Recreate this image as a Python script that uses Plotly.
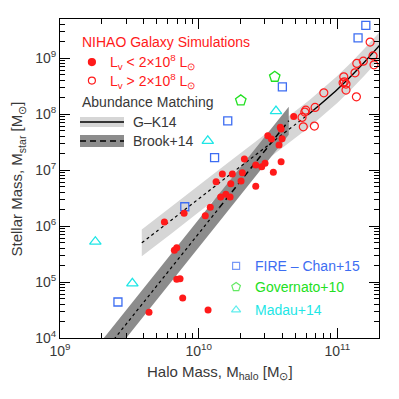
import numpy as np
import plotly.graph_objects as go

# ---------------- data (log10 values)
# NIHAO, L_V < 2e8 L_sun (filled red dots)
faint_logmh = [10.171, 10.243, 10.126, 10.232, 10.196, 10.159, 10.227, 10.084, 10.048,
               9.895, 9.753, 9.842, 9.825, 9.842, 9.866, 9.885, 9.642, 10.068,
               10.330, 10.412, 10.455, 10.479, 10.595, 10.539, 10.315, 10.306, 10.412,
               10.686, 10.589, 10.595, 10.499, 10.525, 10.602, 10.580]
faint_logms = [6.929, 6.929, 6.791, 6.755, 6.566, 6.518, 6.518, 6.334, 6.184,
               6.227, 6.071, 5.613, 5.566, 5.048, 5.059, 4.714, 4.459, 4.500,
               7.196, 7.089, 7.059, 7.120, 7.148, 6.959, 6.952, 6.804, 6.709,
               7.959, 7.763, 7.732, 7.613, 7.554, 7.559, 7.446]

# NIHAO, L_V > 2e8 L_sun (open red circles)
bright_logmh = [11.237, 11.258, 11.265, 11.188, 11.141, 11.128, 11.047, 11.042, 11.063,
                11.051, 11.063, 11.138, 10.903, 10.840, 10.773, 10.766, 10.746, 10.755,
                10.835]
bright_logms = [9.286, 9.041, 8.880, 8.946, 8.905, 8.738, 8.666, 8.559, 8.536,
                8.577, 8.429, 8.309, 8.380, 8.120, 8.071, 8.036, 7.941, 7.773,
                7.786]

# FIRE - Chan+15
fire_logmh = [11.206, 11.150, 10.604, 10.210, 10.115, 9.900, 9.418]
fire_logms = [9.584, 9.363, 8.488, 7.880, 7.223, 6.345, 4.643]

# Governato+10
gov_logmh = [10.549, 10.304]
gov_logms = [8.666, 8.245]

# Madau+14
madau_logmh = [10.558, 10.066, 9.255, 9.522]
madau_logms = [8.054, 7.523, 5.720, 4.977]

# Abundance matching: G-K14 (dotted below 10.8, solid above)
gk_logmh = [9.59, 9.8, 10.0, 10.2, 10.4, 10.6, 10.8, 11.0, 11.1, 11.2, 11.31]
gk_logms = [5.70, 6.10, 6.485, 6.87, 7.25, 7.63, 8.01, 8.44, 8.68, 8.94, 9.24]
gk_scatter = 0.24

# Abundance matching: Brook+14 (dotted below 10.15, dashed above)
brook_logmh = [9.2, 10.15, 10.65]
brook_logms = [3.39, 6.33, 7.88]
brook_scatter = 0.25

RED = '#ff1a1a'
BLUE = '#3d6df2'
GREEN = '#22e022'
CYAN = '#1ee6e6'
TXT = '#383838'
FONT = 'Liberation Sans'


def band(logmh, logms, dex, color):
    x = np.concatenate([logmh, logmh[::-1]])
    y = np.concatenate([np.array(logms) + dex, (np.array(logms) - dex)[::-1]])
    return go.Scatter(x=10**x, y=10**y, fill='toself', fillcolor=color, mode='none',
                      hoverinfo='skip', showlegend=False)


fig = go.Figure()

# bands
fig.add_trace(band(np.array(gk_logmh), gk_logms, gk_scatter, '#d6d6d6'))
fig.add_trace(band(np.array(brook_logmh), brook_logms, brook_scatter, '#8c8c8c'))

# center lines
fig.add_trace(go.Scatter(x=10**np.array(gk_logmh[:7]), y=10**np.array(gk_logms[:7]),
                         mode='lines', line=dict(color='black', width=1.2, dash='dot', shape='spline'),
                         showlegend=False))
fig.add_trace(go.Scatter(x=10**np.array(gk_logmh[6:]), y=10**np.array(gk_logms[6:]),
                         mode='lines', line=dict(color='black', width=1.4, shape='spline'),
                         showlegend=False))
fig.add_trace(go.Scatter(x=10**np.array(brook_logmh[:2]), y=10**np.array(brook_logms[:2]),
                         mode='lines', line=dict(color='black', width=1.2, dash='dot'),
                         showlegend=False))
fig.add_trace(go.Scatter(x=10**np.array(brook_logmh[1:]), y=10**np.array(brook_logms[1:]),
                         mode='lines', line=dict(color='black', width=1.5, dash='6px,4px'),
                         showlegend=False))

# points
fig.add_trace(go.Scatter(x=10**np.array(fire_logmh), y=10**np.array(fire_logms), mode='markers',
                         marker=dict(symbol='square-open', size=8, color=BLUE, line=dict(width=1.3)),
                         showlegend=False))
fig.add_trace(go.Scatter(x=10**np.array(gov_logmh), y=10**np.array(gov_logms), mode='markers',
                         marker=dict(symbol='pentagon-open', size=11, color=GREEN, line=dict(width=1.3)),
                         showlegend=False))
fig.add_trace(go.Scatter(x=10**np.array(madau_logmh), y=10**np.array(madau_logms), mode='markers',
                         marker=dict(symbol='triangle-up-open', size=10, color=CYAN, line=dict(width=1.3)),
                         showlegend=False))
fig.add_trace(go.Scatter(x=10**np.array(bright_logmh), y=10**np.array(bright_logms), mode='markers',
                         marker=dict(symbol='circle-open', size=8, color=RED, line=dict(width=1.2)),
                         showlegend=False))
fig.add_trace(go.Scatter(x=10**np.array(faint_logmh), y=10**np.array(faint_logms), mode='markers',
                         marker=dict(symbol='circle', size=7, color=RED),
                         showlegend=False))

# legend glyphs on an overlay [0,1] axis
fig.add_trace(go.Scatter(x=[0.100, 0.100], y=[0.865, 0.807], mode='markers', xaxis='x2', yaxis='y2',
                         marker=dict(symbol=['circle', 'circle-open'], size=7, color=RED, line=dict(width=1.2, color=RED)),
                         showlegend=False, hoverinfo='skip'))
fig.add_trace(go.Scatter(x=[0.552, 0.552, 0.552], y=[0.226, 0.160, 0.088], mode='markers', xaxis='x2', yaxis='y2',
                         marker=dict(symbol=['square-open', 'pentagon-open', 'triangle-up-open'], size=[7, 9, 8],
                                     color=[BLUE, GREEN, CYAN], line=dict(width=1.2)),
                         showlegend=False, hoverinfo='skip'))

# legend swatches for abundance matching
fig.add_shape(type='rect', xref='paper', yref='paper', x0=0.0627, x1=0.2006, y0=0.6614, y1=0.6928,
              fillcolor='#d6d6d6', line_width=0)
fig.add_shape(type='line', xref='paper', yref='paper', x0=0.0627, x1=0.2006, y0=0.677, y1=0.677,
              line=dict(color='black', width=1.4))
fig.add_shape(type='rect', xref='paper', yref='paper', x0=0.0627, x1=0.2006, y0=0.5987, y1=0.6364,
              fillcolor='#8c8c8c', line_width=0)
fig.add_shape(type='line', xref='paper', yref='paper', x0=0.0627, x1=0.2006, y0=0.6176, y1=0.6176,
              line=dict(color='black', width=1.6, dash='6px,4px'))

labels = [
    ('NIHAO Galaxy Simulations', 0.0627, 0.928, RED),
    ('L<sub>v</sub> < 2×10<sup>8</sup> L<sub>⊙</sub>', 0.150, 0.865, RED),
    ('L<sub>v</sub> > 2×10<sup>8</sup> L<sub>⊙</sub>', 0.150, 0.807, RED),
    ('Abundance Matching', 0.0627, 0.740, TXT),
    ('G–K14', 0.2226, 0.677, TXT),
    ('Brook+14', 0.2226, 0.6176, TXT),
    ('FIRE – Chan+15', 0.605, 0.226, BLUE),
    ('Governato+10', 0.605, 0.160, GREEN),
    ('Madau+14', 0.605, 0.088, CYAN),
]
for txt, xx, yy, col in labels:
    fig.add_annotation(text=txt, x=xx, y=yy, xref='paper', yref='paper', xanchor='left',
                       yanchor='middle', showarrow=False, font=dict(size=14, color=col, family=FONT))

# axis titles
fig.add_annotation(text='Halo Mass, M<sub>halo</sub> [M<sub>⊙</sub>]', x=0.5, y=-0.1066,
                   xref='paper', yref='paper', xanchor='center', yanchor='middle', showarrow=False,
                   font=dict(size=15, color=TXT, family=FONT))
fig.add_annotation(text='Stellar Mass, M<sub>star</sub> [M<sub>⊙</sub>]', x=-0.1317, y=0.5,
                   xref='paper', yref='paper', xanchor='center', yanchor='middle', showarrow=False,
                   textangle=-90, font=dict(size=15, color=TXT, family=FONT))

minor_x = [m * 10**e for e in range(9, 12) for m in range(2, 10) if m * 10**e <= 2e11]
minor_y = [m * 10**e for e in range(4, 10) for m in range(2, 10) if m * 10**e <= 5e9]

axis_common = dict(
    type='log', showline=True, linecolor='black', linewidth=1, mirror='allticks',
    ticks='inside', ticklen=10, tickwidth=1, tickcolor='black',
    showgrid=False, zeroline=False,
    tickfont=dict(size=14, color=TXT, family=FONT),
    minor=dict(ticks='inside', ticklen=5, tickwidth=1, tickcolor='black', showgrid=False),
)

fig.update_xaxes(axis_common)
fig.update_yaxes(axis_common)
# page body has an 8px margin, so the figure is 391 px and margins are trimmed by 8
fig.update_layout(
    xaxis=dict(range=[9, np.log10(2e11)], tickvals=[1e9, 1e10, 1e11],
               ticktext=['10<sup>9</sup>', '10<sup>10</sup>', '10<sup>11</sup>'],
               minor=dict(tickvals=minor_x)),
    yaxis=dict(range=[4, np.log10(5e9)], tickvals=[1e4, 1e5, 1e6, 1e7, 1e8, 1e9],
               ticktext=['10<sup>%d</sup>' % e for e in range(4, 10)],
               minor=dict(tickvals=minor_y)),
    xaxis2=dict(overlaying='x', range=[0, 1], visible=False, anchor='y2'),
    yaxis2=dict(overlaying='y', range=[0, 1], visible=False, anchor='x2'),
    width=391, height=391,
    margin=dict(l=52, r=20, t=11, b=61),
    plot_bgcolor='white', paper_bgcolor='white',
    font=dict(family=FONT, size=14, color=TXT),
    showlegend=False,
)

fig.write_html("out.html")
